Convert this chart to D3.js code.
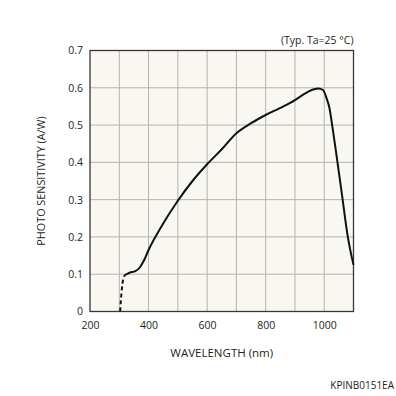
<!DOCTYPE html>
<html>
<head>
<meta charset="utf-8">
<script src="https://cdn.jsdelivr.net/npm/d3@7"></script>
<style>
  html, body { margin: 0; padding: 0; background: #fff; }
  text { font-family: "Open Sans", "Noto Sans", sans-serif; fill: #231f20; }
</style>
</head>
<body>
<div id="chart"></div>
<script>
// wavelength (nm) / photo sensitivity (A/W)
const dashWl  = [303, 306, 309, 313, 320];
const dashVal = [0, 0.035, 0.062, 0.085, 0.098];

const wl  = [320, 335, 355, 370, 385, 400, 450, 500, 550, 600, 650, 700, 750, 800, 850, 900, 935, 965, 980, 996, 1008, 1018, 1028, 1040, 1060, 1080, 1100];
const val = [0.098, 0.104, 0.108, 0.118, 0.138, 0.165, 0.236, 0.297, 0.35, 0.395, 0.435, 0.478, 0.505, 0.527, 0.546, 0.567, 0.585, 0.596, 0.598, 0.594, 0.572, 0.545, 0.495, 0.43, 0.317, 0.203, 0.125];

const xTicks = [200, 400, 600, 800, 1000];
const xGrid = [300, 400, 500, 600, 700, 800, 900, 1000];
const yTicks = [0, 0.1, 0.2, 0.3, 0.4, 0.5, 0.6, 0.7];

const margin = {top: 50.5, right: 42.5, bottom: 84.5, left: 90};
const W = 396, H = 396;

const svg = d3.select("#chart").append("svg")
    .attr("width", W)
    .attr("height", H);

const x = d3.scaleLinear().domain([200, 1100]).range([margin.left, W - margin.right]);
const y = d3.scaleLinear().domain([0, 0.7]).range([H - margin.bottom, margin.top]);

// plot background
svg.append("rect")
    .attr("x", x(200)).attr("y", y(0.7))
    .attr("width", x(1100) - x(200))
    .attr("height", y(0) - y(0.7))
    .attr("fill", "#f8f7f1");

// grid
svg.append("g").selectAll("line.vg")
    .data(xGrid).enter().append("line")
    .attr("x1", d => x(d)).attr("x2", d => x(d))
    .attr("y1", y(0)).attr("y2", y(0.7))
    .attr("stroke", "#b5b3ad").attr("stroke-width", 1);

svg.append("g").selectAll("line.hg")
    .data(yTicks.slice(1, -1)).enter().append("line")
    .attr("x1", x(200)).attr("x2", x(1100))
    .attr("y1", d => y(d)).attr("y2", d => y(d))
    .attr("stroke", "#b5b3ad").attr("stroke-width", 1);

// frame
svg.append("rect")
    .attr("x", x(200)).attr("y", y(0.7))
    .attr("width", x(1100) - x(200))
    .attr("height", y(0) - y(0.7))
    .attr("fill", "none")
    .attr("stroke", "#3b3536").attr("stroke-width", 1.3);

// axes (labels only)
const xAxis = svg.append("g")
    .attr("transform", "translate(0," + y(0) + ")")
    .call(d3.axisBottom(x).tickValues(xTicks).tickSize(0).tickPadding(10)
        .tickFormat(d3.format("d")));
xAxis.select(".domain").remove();
xAxis.selectAll("text").attr("font-size", 10.5).style("font-family", null);

const yAxis = svg.append("g")
    .attr("transform", "translate(" + x(200) + ",0)")
    .call(d3.axisLeft(y).tickValues(yTicks).tickSize(0).tickPadding(7)
        .tickFormat(d => d === 0 ? "0" : d3.format(".1f")(d)));
yAxis.select(".domain").remove();
yAxis.selectAll("text").attr("font-size", 10.5).style("font-family", null);

// curve
const line = d3.line()
    .x(d => x(d[0]))
    .y(d => y(d[1]))
    .curve(d3.curveMonotoneX);

svg.append("path")
    .datum(dashWl.map((w, i) => [w, dashVal[i]]))
    .attr("d", line)
    .attr("fill", "none")
    .attr("stroke", "#111")
    .attr("stroke-width", 2)
    .attr("stroke-dasharray", "4,3");

svg.append("path")
    .datum(wl.map((w, i) => [w, val[i]]))
    .attr("d", line)
    .attr("fill", "none")
    .attr("stroke", "#111")
    .attr("stroke-width", 2)
    .attr("stroke-linejoin", "round");

// texts
svg.append("text")
    .attr("x", x(1100)).attr("y", 44)
    .attr("text-anchor", "end")
    .attr("font-size", 10.5)
    .text("(Typ. Ta=25 °C)");

svg.append("text")
    .attr("transform", "translate(44.5," + ((y(0) + y(0.7)) / 2) + ") rotate(-90)")
    .attr("text-anchor", "middle")
    .attr("font-size", 10.8)
    .text("PHOTO SENSITIVITY (A/W)");

svg.append("text")
    .attr("x", (x(200) + x(1100)) / 2).attr("y", 357)
    .attr("text-anchor", "middle")
    .attr("font-size", 11.5)
    .text("WAVELENGTH (nm)");

svg.append("text")
    .attr("x", 394).attr("y", 389)
    .attr("text-anchor", "end")
    .attr("font-size", 10)
    .text("KPINB0151EA");
</script>
</body>
</html>
